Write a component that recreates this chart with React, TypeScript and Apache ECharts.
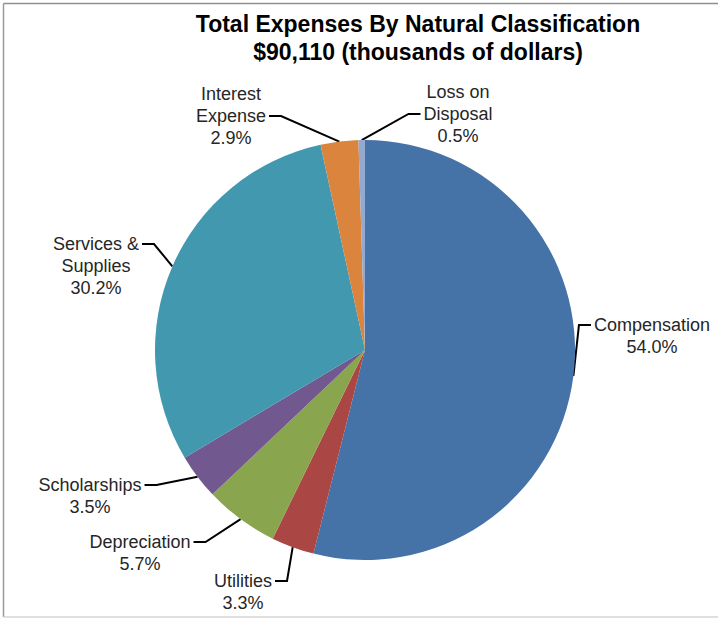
import React, { useEffect, useRef } from 'react';
import * as echarts from 'echarts';

const titleLines = ['Total Expenses By Natural Classification', '$90,110 (thousands of dollars)'];
const categories = ['Compensation', 'Utilities', 'Depreciation', 'Scholarships', 'Services &\nSupplies', 'Interest\nExpense', 'Loss on\nDisposal'];
const percents = [54.0, 3.3, 5.7, 3.5, 30.2, 2.9, 0.5];
const colors = ['#4572A7', '#AA4643', '#89A54E', '#71588F', '#4198AF', '#DB843D', '#93A9CF'];

// label layout: [centre x, y of the text line the leader attaches to, that line's index]
const labelPlacement: [number, number, number][] = [
  [652, 325, 0],
  [243, 581, 0],
  [140, 542, 0],
  [90, 485, 0],
  [96, 244, 0],
  [231, 116, 1],
  [458, 114, 1],
];

const LINE_H = 22;
const GAP = 3;
const FONT = '"Liberation Sans", Arial, sans-serif';

const lineCount = (i: number) => categories[i].split('\n').length + 1;

export default function App() {
  const ref = useRef<HTMLDivElement>(null);
  useEffect(() => {
    if (!ref.current) return;
    const chart = echarts.init(ref.current, undefined, { renderer: 'svg' });
    const data = categories.map((name, i) => {
      const n = lineCount(i);
      const k = labelPlacement[i][2];
      const padTop = Math.max(0, (n - 2 * k - 1) * LINE_H);
      return {
        name,
        value: percents[i],
        itemStyle: { color: colors[i] },
        label: { padding: [padTop, GAP, 0, GAP] },
      };
    });
    chart.setOption({
      animation: false,
      backgroundColor: '#ffffff',
      title: {
        text: titleLines.join('\n'),
        left: 413,
        top: 5,
        textAlign: 'center',
        textStyle: { fontFamily: FONT, fontSize: 23, fontWeight: 'bold', color: '#000', lineHeight: 28 },
      },
      graphic: [
        { type: 'line', shape: { x1: 3.5, y1: 3.5, x2: 718, y2: 3.5 }, style: { stroke: '#8f8f8f', lineWidth: 1.5 } },
        { type: 'line', shape: { x1: 3.5, y1: 3.5, x2: 3.5, y2: 617 }, style: { stroke: '#9a9a9a', lineWidth: 1.5 } },
        { type: 'line', shape: { x1: 3.5, y1: 617, x2: 718, y2: 617 }, style: { stroke: '#d4d4d4', lineWidth: 1.5 } },
      ],
      series: [
        {
          type: 'pie',
          center: [365, 350],
          radius: 210,
          startAngle: 90,
          clockwise: true,
          avoidLabelOverlap: false,
          data,
          itemStyle: { borderWidth: 0 },
          label: {
            show: true,
            position: 'outer',
            formatter: (p: any) => `${p.name}\n${Number(p.value).toFixed(1)}%`,
            fontFamily: FONT,
            fontSize: 18,
            lineHeight: LINE_H,
            color: '#262626',
            align: 'center',
            backgroundColor: 'rgba(255,255,255,0)',
          },
          labelLine: {
            show: true,
            length: 15,
            length2: 12,
            minTurnAngle: 0,
            maxSurfaceAngle: 180,
            smooth: false,
            lineStyle: { color: '#000', width: 2 },
          },
          labelLayout: (params: any) => {
            const i = params.dataIndex;
            const p = labelPlacement[i];
            const n = lineCount(i);
            return {
              x: p[0],
              y: p[1] - (n - p[2] - 0.5) * LINE_H,
              align: 'center',
              verticalAlign: 'top',
              hideOverlap: false,
            };
          },
          emphasis: { disabled: true },
        },
      ],
    });
    return () => chart.dispose();
  }, []);
  return <div ref={ref} style={{ position: 'fixed', left: 0, top: 0, width: 718, height: 618 }} />;
}
